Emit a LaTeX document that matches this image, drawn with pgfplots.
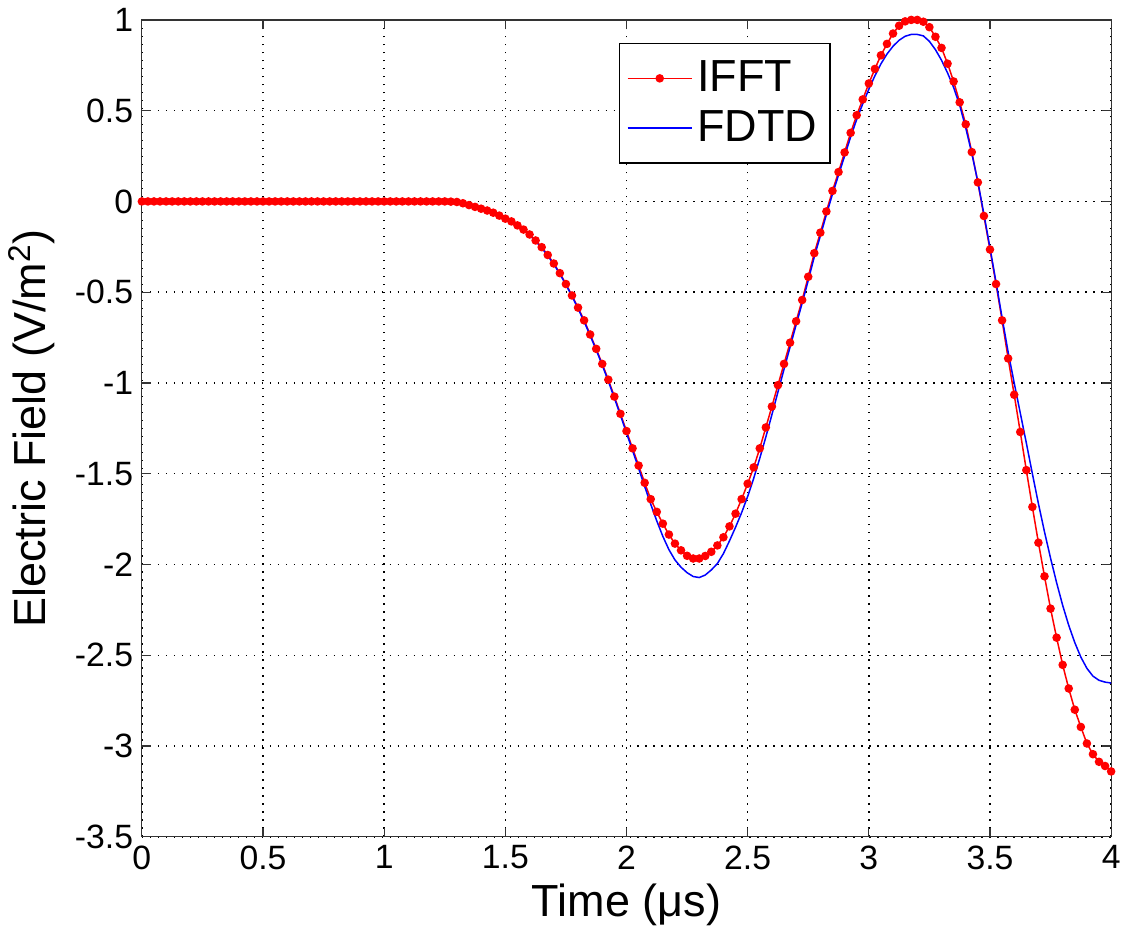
\documentclass[border=0pt]{standalone}
\usepackage{fontspec}
\setmainfont{Liberation Sans}
\usepackage{pgfplots}
\usepackage{pgfplotstable}
\pgfplotsset{compat=1.18}

% t (us), IFFT, FDTD
\pgfplotstableread{
t ifft fdtd
0.000 0 0
0.025 0 0
0.050 0 0
0.075 0 0
0.100 0 0
0.125 0 0
0.150 0 0
0.175 0 0
0.200 0 0
0.225 0 0
0.250 0 0
0.275 0 0
0.300 0 0
0.325 0 0
0.350 0 0
0.375 0 0
0.400 0 0
0.425 0 0
0.450 0 0
0.475 0 0
0.500 0 0
0.525 0 0
0.550 0 0
0.575 0 0
0.600 0 0
0.625 0 0
0.650 0 0
0.675 0 0
0.700 0 0
0.725 0 0
0.750 0 0
0.775 0 0
0.800 0 0
0.825 0 0
0.850 0 0
0.875 0 0
0.900 0 0
0.925 0 0
0.950 0 0
0.975 0 0
1.000 0 0
1.025 0 0
1.050 0 0
1.075 0 0
1.100 0 0
1.125 0 0
1.150 0 0
1.175 0 0
1.200 0 0
1.225 0 0
1.250 0 0
1.275 -0.001 -0.001
1.300 -0.003 -0.003
1.325 -0.010 -0.010
1.350 -0.020 -0.020
1.375 -0.030 -0.030
1.400 -0.040 -0.040
1.425 -0.050 -0.050
1.450 -0.062 -0.062
1.475 -0.078 -0.078
1.500 -0.095 -0.095
1.525 -0.110 -0.112
1.550 -0.132 -0.134
1.575 -0.155 -0.158
1.600 -0.182 -0.186
1.625 -0.215 -0.219
1.650 -0.252 -0.256
1.675 -0.295 -0.299
1.700 -0.342 -0.346
1.725 -0.395 -0.399
1.750 -0.455 -0.459
1.775 -0.518 -0.522
1.800 -0.585 -0.590
1.825 -0.655 -0.661
1.850 -0.733 -0.739
1.875 -0.812 -0.818
1.900 -0.895 -0.902
1.925 -0.982 -0.990
1.950 -1.075 -1.083
1.975 -1.170 -1.178
2.000 -1.265 -1.275
2.025 -1.360 -1.372
2.050 -1.455 -1.470
2.075 -1.550 -1.570
2.100 -1.640 -1.668
2.125 -1.710 -1.760
2.150 -1.775 -1.845
2.175 -1.835 -1.918
2.200 -1.885 -1.975
2.225 -1.922 -2.015
2.250 -1.952 -2.045
2.275 -1.967 -2.066
2.300 -1.967 -2.072
2.325 -1.953 -2.058
2.350 -1.930 -2.030
2.375 -1.895 -1.995
2.400 -1.850 -1.940
2.425 -1.790 -1.870
2.450 -1.720 -1.795
2.475 -1.640 -1.715
2.500 -1.555 -1.625
2.525 -1.465 -1.525
2.550 -1.360 -1.415
2.575 -1.245 -1.298
2.600 -1.130 -1.175
2.625 -1.012 -1.050
2.650 -0.895 -0.925
2.675 -0.778 -0.802
2.700 -0.660 -0.680
2.725 -0.543 -0.560
2.750 -0.415 -0.435
2.775 -0.285 -0.305
2.800 -0.172 -0.190
2.825 -0.055 -0.072
2.850 0.058 0.040
2.875 0.162 0.145
2.900 0.270 0.250
2.925 0.378 0.355
2.950 0.475 0.452
2.975 0.562 0.538
3.000 0.650 0.618
3.025 0.730 0.692
3.050 0.805 0.758
3.075 0.868 0.812
3.100 0.925 0.855
3.125 0.968 0.888
3.150 0.992 0.910
3.175 1.000 0.920
3.200 1.000 0.920
3.225 0.990 0.912
3.250 0.960 0.882
3.275 0.907 0.836
3.300 0.846 0.778
3.325 0.759 0.708
3.350 0.661 0.628
3.375 0.546 0.530
3.400 0.425 0.405
3.425 0.272 0.265
3.450 0.105 0.108
3.475 -0.080 -0.070
3.500 -0.265 -0.255
3.525 -0.455 -0.445
3.550 -0.655 -0.640
3.575 -0.865 -0.830
3.600 -1.065 -1.000
3.625 -1.270 -1.165
3.650 -1.480 -1.330
3.675 -1.683 -1.500
3.700 -1.880 -1.665
3.725 -2.065 -1.820
3.750 -2.243 -1.965
3.775 -2.403 -2.100
3.800 -2.553 -2.225
3.825 -2.683 -2.335
3.850 -2.800 -2.430
3.875 -2.895 -2.510
3.900 -2.986 -2.572
3.925 -3.045 -2.615
3.950 -3.087 -2.638
3.975 -3.110 -2.648
4.000 -3.140 -2.653
}\fielddata

\begin{document}
\begin{tikzpicture}
\begin{axis}[
  scale only axis,
  width=388pt, height=327pt,
  xmin=0, xmax=4, ymin=-3.5, ymax=1,
  xtick={0,0.5,...,4},
  ytick={-3.5,-3,...,1},
  /pgf/number format/assume math mode=true,
  ticklabel style={font=\fontsize{13.5}{15}\selectfont},
  xticklabel style={inner xsep=1pt},
  label style={font=\fontsize{18}{21}\selectfont},
  xlabel={Time (μs)},
  ylabel={Electric Field (V/m\textsuperscript{2})},
  xlabel style={yshift=1pt},
  ylabel style={yshift=1pt},
  grid=major,
  grid style={black, line width=0.6pt, dash pattern=on 0.6pt off 2.6pt},
  tick align=inside,
  major tick length=3.6pt,
  tick style={black!80, line width=0.5pt},
  axis line style={black!80, line width=0.5pt},
  legend style={at={(0.492,0.972)}, anchor=north west,
    draw=black, fill=white, line width=0.6pt,
    font=\fontsize{18}{20}\selectfont,
    inner xsep=3pt, inner ysep=5pt,
    row sep=2pt},
  legend cell align=left,
  legend image code/.code={%
    \draw[mark repeat=2,mark phase=2,#1]
      plot coordinates {(0cm,0cm) (0.45cm,0cm) (0.9cm,0cm)};},
]
\addplot[red, line width=0.6pt, mark=*, mark size=1.4pt,
  mark options={fill=red, draw=red}] table[x=t, y=ifft] {\fielddata};
\addlegendentry{IFFT}
\addplot[blue, line width=0.6pt] table[x=t, y=fdtd] {\fielddata};
\addlegendentry{FDTD}
\end{axis}
\end{tikzpicture}
\end{document}
